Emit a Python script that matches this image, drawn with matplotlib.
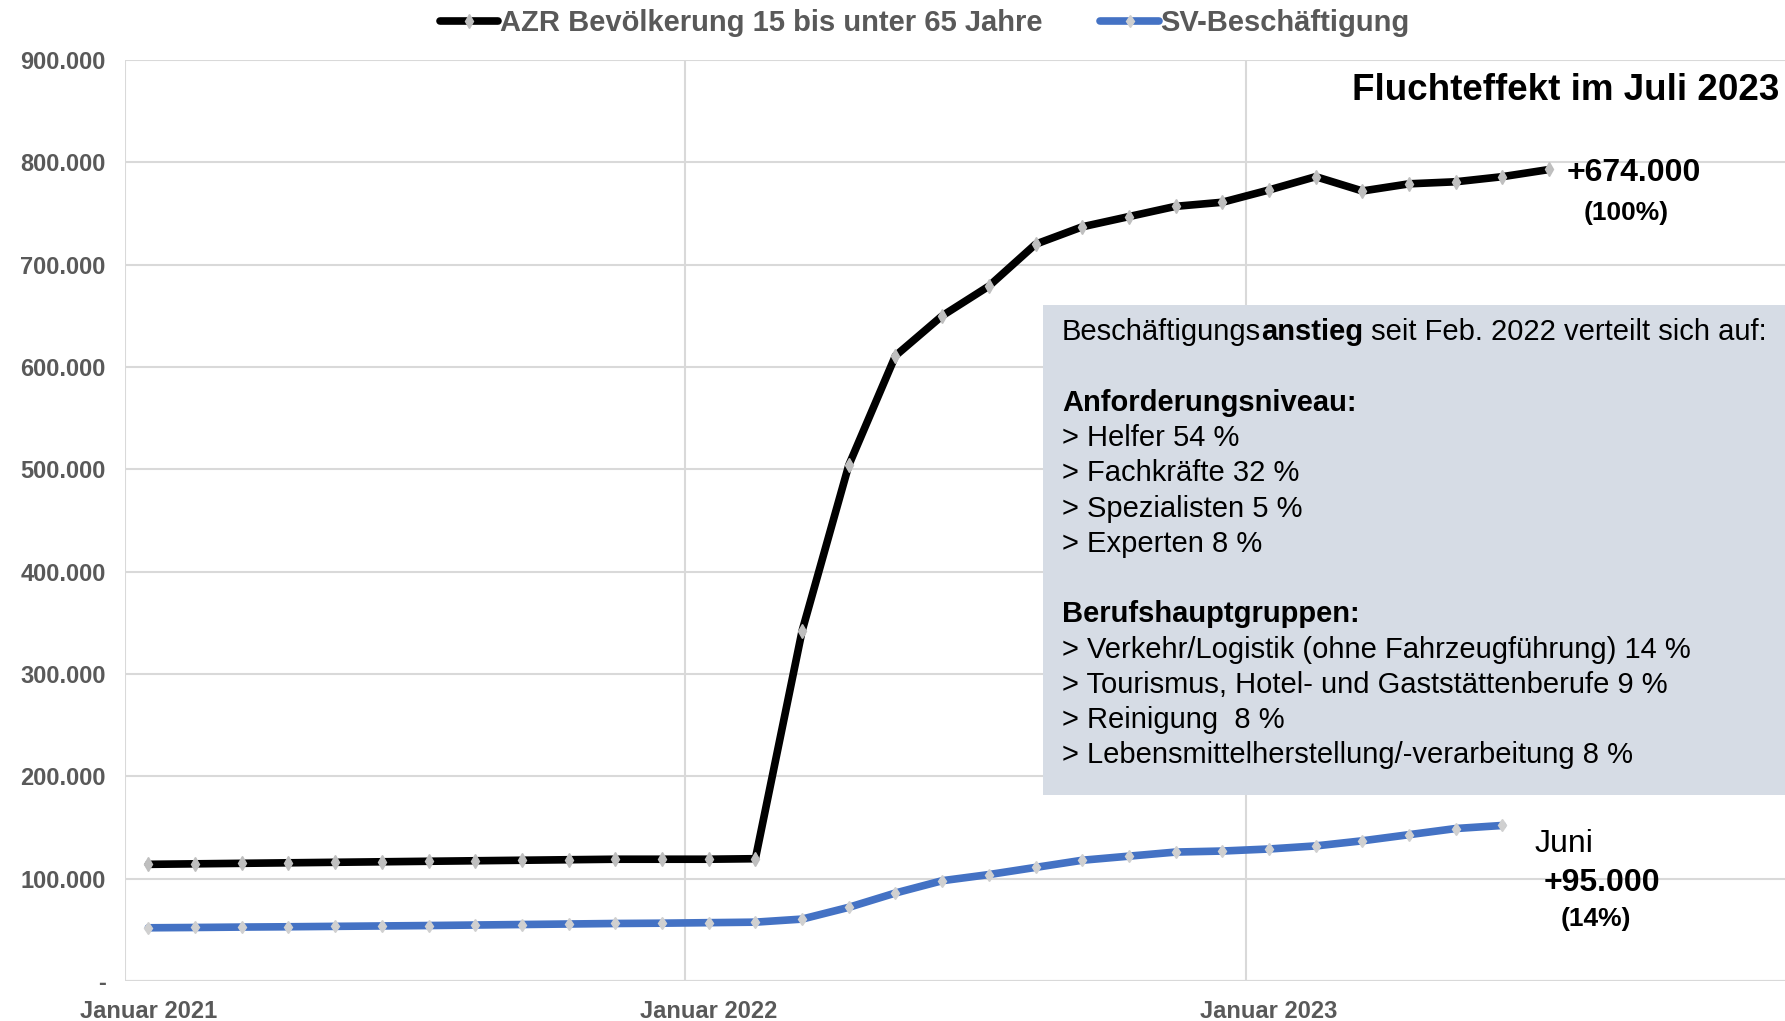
import matplotlib.pyplot as plt
from matplotlib.patches import Rectangle
from matplotlib.ticker import FuncFormatter, MultipleLocator

plt.rcParams['font.family'] = ['Liberation Sans', 'DejaVu Sans']

# Monate Januar 2021 bis Dezember 2023 (Kategorienachse)
months = []
for year in (2021, 2022, 2023):
    for m in range(1, 13):
        months.append('%02d/%d' % (m, year))

# AZR Bevoelkerung 15 bis unter 65 Jahre, Jan 2021 - Jul 2023
azr = [114000, 114500, 115000, 115500, 116000, 116500, 117000, 117500,
       118000, 118500, 119000, 119000, 119000, 119500,
       342000, 504000, 611000, 650000, 679000, 720000, 737000, 747000,
       757000, 761000, 773000, 786000, 772000, 779000, 781000, 786000,
       793000]

# SV-Beschaeftigung, Jan 2021 - Jun 2023
sv = [52000, 52300, 52700, 53000, 53400, 53800, 54200, 54700,
      55200, 55700, 56200, 56500, 57000, 57500,
      60500, 72000, 86000, 98000, 104000, 111000, 118000, 122000,
      126000, 127000, 129000, 132000, 137000, 143000, 149000, 152000]

tick_months = ['01/2021', '01/2022', '01/2023']
tick_labels = ['Januar 2021', 'Januar 2022', 'Januar 2023']

box_lines = [
    None,  # erste Zeile mit Fettdruck, siehe unten
    '',
    ('Anforderungsniveau:', 'bold'),
    ('> Helfer 54 %', 'normal'),
    ('> Fachkräfte 32 %', 'normal'),
    ('> Spezialisten 5 %', 'normal'),
    ('> Experten 8 %', 'normal'),
    '',
    ('Berufshauptgruppen:', 'bold'),
    ('> Verkehr/Logistik (ohne Fahrzeugführung) 14 %', 'normal'),
    ('> Tourismus, Hotel- und Gaststättenberufe 9 %', 'normal'),
    ('> Reinigung  8 %', 'normal'),
    ('> Lebensmittelherstellung/-verarbeitung 8 %', 'normal'),
]

W, H = 1785, 1021
fig = plt.figure(figsize=(W / 100, H / 100), dpi=100)
ax = fig.add_axes([125 / W, 1 - 981 / H, 1 - 125 / W, (981 - 60) / H])

grey = '#595959'
gridc = '#D9D9D9'

x_azr = range(len(azr))
x_sv = range(len(sv))
ax.plot(x_azr, azr, color='black', lw=5.5, marker='d', ms=7.5,
        mfc='#BFBFBF', mec='#BFBFBF', solid_joinstyle='round',
        solid_capstyle='round',
        label='AZR Bevölkerung 15 bis unter 65 Jahre', zorder=3)
ax.plot(x_sv, sv, color='#4472C4', lw=5.5, marker='d', ms=6.5,
        mfc='#D0D0D0', mec='#D0D0D0', solid_joinstyle='round',
        solid_capstyle='round', label='SV-Beschäftigung', zorder=3)

ax.set_xlim(-0.5, 35.05)
ax.set_ylim(0, 900000)

# Gitter
ax.yaxis.set_major_locator(MultipleLocator(100000))
ax.grid(axis='y', color=gridc, lw=1.5, zorder=0)
for v in (-0.5, 11.5, 23.5):
    ax.axvline(v, color=gridc, lw=1.5, zorder=0)
for s in ax.spines.values():
    s.set_visible(False)
ax.axhline(0, color=gridc, lw=1.5, zorder=1)


def fmt(v, pos):
    if v == 0:
        return '-'
    return '{:,.0f}'.format(v).replace(',', '.')


ax.yaxis.set_major_formatter(FuncFormatter(fmt))
ax.set_xticks([months.index(m) for m in tick_months])
ax.set_xticklabels(tick_labels)
ax.tick_params(length=0, labelsize=17, labelcolor=grey)
ax.tick_params(axis='y', pad=14)
ax.tick_params(axis='x', pad=14)
for lab in ax.get_xticklabels() + ax.get_yticklabels():
    lab.set_fontweight('bold')

fig.legend(loc='center', bbox_to_anchor=(0.518, 1 - 23 / H), ncol=2,
           frameon=False, handlelength=2.0, handletextpad=0.05,
           columnspacing=2.0, prop={'weight': 'bold', 'size': 21},
           labelcolor=grey)

fig.text(1779 / W, 1 - 90 / H, 'Fluchteffekt im Juli 2023', ha='right',
         va='center', fontsize=26.5, fontweight='bold')

# Beschriftungen an den Endpunkten
xa, ya = len(azr) - 1, azr[-1]
ax.annotate('+674.000', (xa, ya), xytext=(17, -4), textcoords='offset pixels',
            ha='left', va='center', fontsize=23, fontweight='bold')
ax.annotate('(100%)', (xa, ya), xytext=(77, -44), textcoords='offset pixels',
            ha='center', va='center', fontsize=19, fontweight='bold')
xs, ys = len(sv) - 1, sv[-1]
ax.annotate('Juni', (xs, ys), xytext=(32, -19), textcoords='offset pixels',
            ha='left', va='center', fontsize=23)
ax.annotate('+95.000', (xs, ys), xytext=(99, -58), textcoords='offset pixels',
            ha='center', va='center', fontsize=23, fontweight='bold')
ax.annotate('(14%)', (xs, ys), xytext=(93, -94), textcoords='offset pixels',
            ha='center', va='center', fontsize=19, fontweight='bold')

# Textkasten
ax.add_patch(Rectangle((1043 / W, 1 - 795 / H), 1 - 1043 / W, 490 / H,
                       transform=fig.transFigure, facecolor='#D6DCE5',
                       edgecolor='none', zorder=5, clip_on=False))
tx = 1062 / W
y0 = 332.4
step = 35.25
t1 = ax.text(tx, 1 - y0 / H, 'Beschäftigungs', fontsize=21, va='center',
             transform=fig.transFigure, zorder=6)
t2 = ax.annotate('anstieg', xy=(1, 0), xycoords=t1, va='bottom', ha='left',
                 fontsize=21, fontweight='bold', zorder=6,
                 annotation_clip=False)
t3 = ax.annotate(' seit Feb. 2022 verteilt sich auf:', xy=(1, 0),
                 xycoords=t2, va='bottom', ha='left', fontsize=21, zorder=6,
                 annotation_clip=False)
for i, line in enumerate(box_lines):
    if not line:
        continue
    txt, wt = line
    ax.text(tx, 1 - (y0 + step * i) / H, txt, fontsize=21, fontweight=wt,
            va='center', transform=fig.transFigure, zorder=6)

fig.savefig('out.png', dpi=100)
